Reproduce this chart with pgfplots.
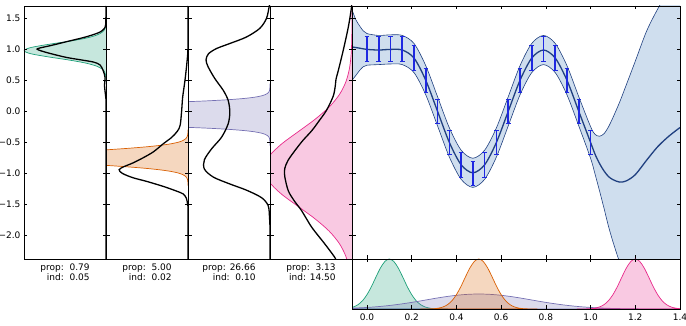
\documentclass[border=0pt]{standalone}
\usepackage{pgfplots}
\pgfplotsset{compat=1.18}
\usepackage{fontspec}
\setmainfont{DejaVu Sans}

\definecolor{cgreen}{HTML}{1B9E77}
\definecolor{corange}{HTML}{D95F02}
\definecolor{cpurple}{HTML}{7570B3}
\definecolor{cpink}{HTML}{E7298A}
\definecolor{gpband}{RGB}{207,222,238}
\definecolor{gpline}{RGB}{32,64,128}
\definecolor{errcol}{RGB}{30,40,225}

\pgfplotsset{
  base/.style={
    scale only axis, axis on top, clip=true, anchor=south west,
    tick align=inside, major tick length=3.5pt,
    tick style={black, line width=0.6pt},
    axis line style={black, line width=0.6pt},
    tick label style={font=\fontsize{9}{11}\selectfont},
  },
  side/.style={
    base, width=82pt, height=253pt,
    x dir=reverse, xmin=0, xmax=1, ymin=-2.38, ymax=1.70,
    xtick=\empty, ytick={-2,-1.5,-1,-0.5,0,0.5,1,1.5},
    ytick pos=both, yticklabels={},
  },
  gauss/.style={smooth, line width=0.7pt, draw=#1, fill=#1, fill opacity=0.25},
  mc/.style={smooth, black, line width=1.3pt},
}

% observations: x, y, half-width of the error bar
\pgfplotstableread{
x       y       e
0       1       0.2
0.0526  1       0.2
0.1053  1       0.2
0.1579  1       0.2
0.2105  0.866   0.2
0.2632  0.5     0.2
0.3158  0       0.2
0.3684  -0.5    0.2
0.4211  -0.866  0.2
0.4737  -1      0.2
0.5263  -0.866  0.2
0.5789  -0.5    0.2
0.6316  0       0.2
0.6842  0.5     0.2
0.7368  0.866   0.2
0.7895  1       0.2
0.8421  0.866   0.2
0.8947  0.5     0.2
0.9474  0       0.2
1.0     -0.5    0.2
}\obs

\begin{document}
\begin{tikzpicture}
\useasboundingbox (0pt,0pt) rectangle (686pt,326pt);

% ---- output densities for the four test inputs (rotated) ----
\begin{axis}[side, at={(24pt,67pt)},
  yticklabels={−2.0,−1.5,−1.0,−0.5,0.0,0.5,1.0,1.5}, yticklabel pos=left]
\addplot[gauss=cgreen] coordinates {(0,0.48) (0.0009,0.53) (0.0039,0.58) (0.0142,0.63) (0.0439,0.68) (0.114,0.73) (0.249,0.78) (0.458,0.83) (0.707,0.88) (0.917,0.93) (1,0.98) (0.917,1.03) (0.707,1.08) (0.458,1.13) (0.249,1.18) (0.114,1.23) (0.0439,1.28) (0.0142,1.33) (0.0039,1.38) (0.0009,1.43) (0,1.48)};
\addplot[mc] coordinates {(0,1.70) (0.004,1.40) (0.025,1.33) (0.073,1.28) (0.15,1.24) (0.277,1.19) (0.48,1.125) (0.68,1.06) (0.80,1.025) (0.84,1.005) (0.80,0.98) (0.68,0.934) (0.48,0.87) (0.277,0.825) (0.15,0.795) (0.073,0.75) (0.035,0.66) (0.012,0.55) (0.018,0.42) (0.012,0.33) (0.004,0.24) (0,0.12) (0,-2.38)};
\end{axis}

\begin{axis}[side, at={(106pt,67pt)}]
\addplot[gauss=corange] coordinates {(0,-1.195) (0.0012,-1.145) (0.0031,-1.12) (0.0071,-1.095) (0.0155,-1.07) (0.032,-1.045) (0.0621,-1.02) (0.114,-0.995) (0.198,-0.97) (0.324,-0.945) (0.499,-0.92) (0.727,-0.895) (1.0,-0.87) (1.297,-0.845) (1.836,-0.795) (2.06,-0.745) (1.836,-0.695) (1.297,-0.645) (1.0,-0.62) (0.727,-0.595) (0.499,-0.57) (0.324,-0.545) (0.198,-0.52) (0.114,-0.495) (0.0621,-0.47) (0.032,-0.445) (0.0155,-0.42) (0.0071,-0.395) (0.0031,-0.37) (0.0012,-0.345) (0,-0.295)};
\addplot[mc] coordinates {(0,1.70) (0,1.05) (0.012,0.80) (0.037,0.50) (0.065,0.23) (0.077,0.02) (0.095,-0.22) (0.13,-0.32) (0.20,-0.42) (0.30,-0.52) (0.42,-0.65) (0.55,-0.75) (0.67,-0.83) (0.78,-0.89) (0.84,-0.94) (0.80,-1.00) (0.67,-1.07) (0.50,-1.13) (0.30,-1.21) (0.15,-1.28) (0.06,-1.33) (0.02,-1.40) (0.005,-1.50) (0,-1.60) (0,-2.38)};
\end{axis}

\begin{axis}[side, at={(188pt,67pt)}]
\addplot[gauss=cpurple] coordinates {(0,-0.55) (0.0005,-0.50) (0.0038,-0.45) (0.0079,-0.43) (0.0161,-0.41) (0.0313,-0.39) (0.0588,-0.37) (0.106,-0.35) (0.184,-0.33) (0.308,-0.31) (0.496,-0.29) (0.768,-0.27) (1.146,-0.25) (1.645,-0.23) (2.64,-0.20) (4.79,-0.15) (7.7,-0.05) (4.79,0.05) (2.64,0.10) (1.645,0.13) (1.146,0.15) (0.768,0.17) (0.496,0.19) (0.308,0.21) (0.184,0.23) (0.106,0.25) (0.0588,0.27) (0.0313,0.29) (0.0161,0.31) (0.0079,0.33) (0.0038,0.35) (0.0005,0.40) (0,0.45)};
\addplot[mc] coordinates {(0,1.75) (0.01,1.69) (0.043,1.50) (0.124,1.34) (0.287,1.20) (0.49,1.095) (0.65,1.015) (0.75,0.93) (0.78,0.83) (0.755,0.72) (0.673,0.53) (0.57,0.34) (0.51,0.178) (0.49,-0.01) (0.51,-0.20) (0.59,-0.415) (0.71,-0.60) (0.80,-0.78) (0.80,-0.93) (0.69,-1.06) (0.49,-1.17) (0.287,-1.27) (0.104,-1.39) (0.022,-1.52) (0.006,-1.71) (0,-1.9) (0,-2.38)};
\end{axis}

\begin{axis}[side, at={(270pt,67pt)}]
\addplot[gauss=cpink] coordinates {(0,1.75) (0.0001,1.67) (0.0005,1.47) (0.0016,1.27) (0.0049,1.07) (0.0137,0.87) (0.0343,0.67) (0.0768,0.47) (0.1545,0.27) (0.279,0.07) (0.453,-0.13) (0.659,-0.33) (0.863,-0.53) (1.014,-0.73) (1.07,-0.93) (1.014,-1.13) (0.863,-1.33) (0.659,-1.53) (0.453,-1.73) (0.279,-1.93) (0.1545,-2.13) (0.0768,-2.33) (0.0343,-2.53) (0.0137,-2.73) (0,-2.9)};
\addplot[mc] coordinates {(0.003,1.75) (0.008,1.66) (0.045,1.36) (0.106,0.99) (0.167,0.66) (0.195,0.52) (0.203,0.42) (0.228,0.25) (0.31,0.02) (0.40,-0.15) (0.49,-0.31) (0.60,-0.47) (0.695,-0.63) (0.78,-0.79) (0.82,-0.92) (0.82,-1.05) (0.777,-1.28) (0.70,-1.45) (0.615,-1.60) (0.49,-1.87) (0.33,-2.14) (0.207,-2.36) (0.18,-2.45)};
\end{axis}

% ---- GP posterior: mean, 2-sigma band and observations ----
\begin{axis}[base, at={(352pt,67pt)}, width=328pt, height=253pt,
  xmin=-0.067, xmax=1.4, ymin=-2.38, ymax=1.70,
  xtick={0,0.2,0.4,0.6,0.8,1.0,1.2,1.4}, xticklabels={},
  ytick={-2,-1.5,-1,-0.5,0,0.5,1,1.5}, yticklabels={},
  xtick pos=both, ytick pos=both]
% band: upper edge left to right, then lower edge right to left
\addplot[fill=gpband, draw=none, smooth] coordinates {(-0.067,1.64) (-0.05,1.48) (-0.033,1.38) (-0.017,1.30) (0,1.255) (0.0526,1.225) (0.1053,1.235) (0.1579,1.225) (0.2105,1.095) (0.2632,0.735) (0.3158,0.235) (0.3684,-0.265) (0.4211,-0.625) (0.4737,-0.755) (0.5263,-0.625) (0.5789,-0.265) (0.6316,0.235) (0.6842,0.735) (0.7368,1.095) (0.7895,1.225) (0.8421,1.095) (0.8947,0.735) (0.9474,0.235) (1.0,-0.245) (1.02,-0.37) (1.04,-0.40) (1.06,-0.36) (1.08,-0.25) (1.10,-0.10) (1.13,0.15) (1.16,0.43) (1.20,0.81) (1.25,1.29) (1.30,1.65) (1.35,1.95) (1.42,2.25)
 (1.42,-2.70) (1.35,-2.75) (1.30,-2.79) (1.25,-2.87) (1.20,-2.85) (1.16,-2.67) (1.13,-2.43) (1.10,-2.10) (1.08,-1.85) (1.06,-1.56) (1.04,-1.28) (1.02,-1.01) (1.0,-0.755) (0.9474,-0.235) (0.8947,0.265) (0.8421,0.625) (0.7895,0.755) (0.7368,0.625) (0.6842,0.265) (0.6316,-0.235) (0.5789,-0.735) (0.5263,-1.095) (0.4737,-1.225) (0.4211,-1.095) (0.3684,-0.735) (0.3158,-0.235) (0.2632,0.265) (0.2105,0.625) (0.1579,0.755) (0.1053,0.765) (0.0526,0.755) (0,0.745) (-0.017,0.72) (-0.033,0.66) (-0.05,0.58) (-0.067,0.50)};
\addplot[gpline, line width=0.6pt, smooth] coordinates {(-0.067,1.64) (-0.05,1.48) (-0.033,1.38) (-0.017,1.30) (0,1.255) (0.0526,1.225) (0.1053,1.235) (0.1579,1.225) (0.2105,1.095) (0.2632,0.735) (0.3158,0.235) (0.3684,-0.265) (0.4211,-0.625) (0.4737,-0.755) (0.5263,-0.625) (0.5789,-0.265) (0.6316,0.235) (0.6842,0.735) (0.7368,1.095) (0.7895,1.225) (0.8421,1.095) (0.8947,0.735) (0.9474,0.235) (1.0,-0.245) (1.02,-0.37) (1.04,-0.40) (1.06,-0.36) (1.08,-0.25) (1.10,-0.10) (1.13,0.15) (1.16,0.43) (1.20,0.81) (1.25,1.29) (1.30,1.65) (1.35,1.95) (1.42,2.25)};
\addplot[gpline, line width=0.6pt, smooth] coordinates {(-0.067,0.50) (-0.05,0.58) (-0.033,0.66) (-0.017,0.72) (0,0.745) (0.0526,0.755) (0.1053,0.765) (0.1579,0.755) (0.2105,0.625) (0.2632,0.265) (0.3158,-0.235) (0.3684,-0.735) (0.4211,-1.095) (0.4737,-1.225) (0.5263,-1.095) (0.5789,-0.735) (0.6316,-0.235) (0.6842,0.265) (0.7368,0.625) (0.7895,0.755) (0.8421,0.625) (0.8947,0.265) (0.9474,-0.235) (1.0,-0.755) (1.02,-1.01) (1.04,-1.28) (1.06,-1.56) (1.08,-1.85) (1.10,-2.10) (1.13,-2.43) (1.16,-2.67) (1.20,-2.85) (1.25,-2.87) (1.30,-2.79) (1.35,-2.75) (1.42,-2.70)};
\addplot[gpline, line width=1.3pt, smooth] coordinates {(-0.067,1.04) (-0.033,1.02) (0,1.00) (0.0526,0.99) (0.1053,1.00) (0.1579,0.99) (0.2105,0.86) (0.2632,0.50) (0.3158,0.0) (0.3684,-0.50) (0.4211,-0.86) (0.4737,-0.99) (0.5263,-0.86) (0.5789,-0.50) (0.6316,0.0) (0.6842,0.50) (0.7368,0.86) (0.7895,0.99) (0.8421,0.86) (0.8947,0.50) (0.9474,0.0) (1.0,-0.50) (1.02,-0.69) (1.04,-0.84) (1.06,-0.96) (1.08,-1.05) (1.10,-1.10) (1.13,-1.14) (1.16,-1.12) (1.20,-1.02) (1.25,-0.79) (1.30,-0.57) (1.35,-0.40) (1.40,-0.26)};
% observations with their error bars (no markers)
\addplot[draw=none, mark=none,
  error bars/.cd, y dir=both, y explicit,
  error bar style={draw=errcol, line width=1.6pt},
  error mark options={draw=errcol, line width=1pt, mark size=2.3pt, rotate=90}]
  table[x=x, y=y, y error=e] {\obs};
\end{axis}

% ---- input distributions ----
\begin{axis}[base, at={(352pt,17pt)}, width=328pt, height=50pt,
  xmin=-0.067, xmax=1.4, ymin=0, ymax=1, ytick=\empty,
  xtick={0,0.2,0.4,0.6,0.8,1.0,1.2,1.4},
  xticklabels={0.0,0.2,0.4,0.6,0.8,1.0,1.2,1.4},
  xtick pos=both, xticklabel style={yshift=-1.5pt}]
\addplot[gauss=cgreen] coordinates {(-0.067,0.0305) (-0.06,0.0408) (-0.04,0.0863) (-0.02,0.165) (0,0.287) (0.02,0.449) (0.04,0.638) (0.06,0.819) (0.08,0.951) (0.1,1) (0.12,0.951) (0.14,0.819) (0.16,0.638) (0.18,0.449) (0.2,0.287) (0.22,0.165) (0.24,0.0863) (0.26,0.0408) (0.28,0.0174) (0.3,0.0067) (0.32,0.0024) (0.34,0.0008) (0.36,0.0002)} \closedcycle;
\addplot[gauss=cpurple] coordinates {(-0.067,0.0161) (0,0.0309) (0.05,0.0476) (0.1,0.070) (0.15,0.0985) (0.2,0.132) (0.25,0.170) (0.3,0.209) (0.35,0.245) (0.4,0.274) (0.45,0.293) (0.5,0.300) (0.55,0.293) (0.6,0.274) (0.65,0.245) (0.7,0.209) (0.75,0.170) (0.8,0.132) (0.85,0.0985) (0.9,0.070) (0.95,0.0476) (1.0,0.0309) (1.05,0.0192) (1.1,0.0114) (1.15,0.0064) (1.2,0.0035) (1.25,0.0018) (1.3,0.0009) (1.35,0.0004) (1.4,0.0002)} \closedcycle;
\addplot[gauss=corange] coordinates {(0.24,0.0002) (0.26,0.0008) (0.28,0.0024) (0.30,0.0067) (0.32,0.0174) (0.34,0.0408) (0.36,0.0863) (0.38,0.165) (0.40,0.287) (0.42,0.449) (0.44,0.638) (0.46,0.819) (0.48,0.951) (0.50,1) (0.52,0.951) (0.54,0.819) (0.56,0.638) (0.58,0.449) (0.60,0.287) (0.62,0.165) (0.64,0.0863) (0.66,0.0408) (0.68,0.0174) (0.70,0.0067) (0.72,0.0024) (0.74,0.0008) (0.76,0.0002)} \closedcycle;
\addplot[gauss=cpink] coordinates {(0.94,0.0002) (0.96,0.0008) (0.98,0.0024) (1.00,0.0067) (1.02,0.0174) (1.04,0.0408) (1.06,0.0863) (1.08,0.165) (1.10,0.287) (1.12,0.449) (1.14,0.638) (1.16,0.819) (1.18,0.951) (1.20,1) (1.22,0.951) (1.24,0.819) (1.26,0.638) (1.28,0.449) (1.30,0.287) (1.32,0.165) (1.34,0.0863) (1.36,0.0408) (1.38,0.0174) (1.40,0.0067)} \closedcycle;
\end{axis}

% ---- timing labels under the side panels ----
\begin{scope}[every node/.style={align=right, font=\fontsize{9}{10}\selectfont, inner sep=0pt}]
\node at (65pt,54pt)  {prop:\ \ 0.79\\ind:\ \ 0.05};
\node at (147pt,54pt) {prop:\ \ 5.00\\ind:\ \ 0.02};
\node at (229pt,54pt) {prop: 26.66\\ind:\ \ 0.10};
\node at (311pt,54pt) {prop:\ \ 3.13\\ind: 14.50};
\end{scope}
\end{tikzpicture}
\end{document}
